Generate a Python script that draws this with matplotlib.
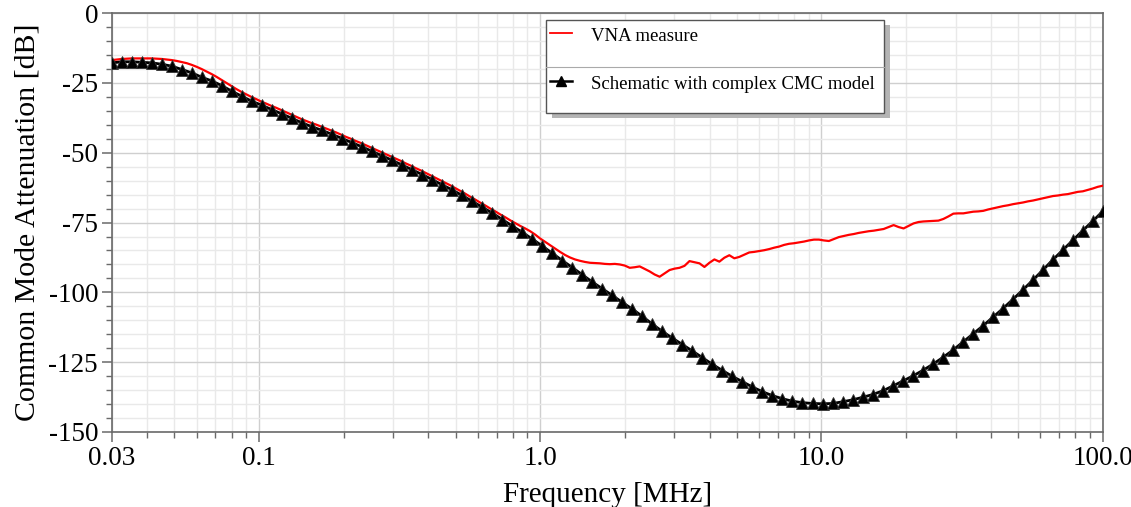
import matplotlib.pyplot as plt
import numpy as np
from matplotlib.patches import Rectangle
from matplotlib.lines import Line2D
from matplotlib.ticker import FixedLocator, LogLocator, NullFormatter

plt.rcParams['font.family'] = ['Liberation Serif', 'DejaVu Serif']
plt.rcParams['axes.unicode_minus'] = False

# --- Data ---
# simulation sweep: 100 log-spaced points, 0.03 .. 100 MHz
sim_freq = np.geomspace(0.03, 100, 100)
sim_db = [
    -17.8, -17.4, -17.4, -17.6, -17.8, -18.3, -19.0, -20.2, -21.4, -23.0,
    -24.3, -26.0, -28.0, -29.8, -31.6, -33.0, -34.6, -36.1, -37.7, -39.3,
    -40.7, -42.0, -43.4, -44.9, -46.4, -47.9, -49.5, -51.1, -52.7, -54.4,
    -56.1, -57.8, -59.6, -61.5, -63.3, -65.3, -67.4, -69.5, -71.6, -73.9,
    -76.2, -78.5, -80.9, -83.4, -86.0, -88.6, -91.1, -93.7, -96.3, -98.7,
    -101.1, -103.6, -106.0, -108.6, -111.4, -114.0, -116.4, -118.7, -121.0, -123.4,
    -125.8, -128.0, -130.1, -132.0, -133.9, -135.6, -137.0, -138.1, -139.0, -139.5,
    -139.8, -139.9, -139.8, -139.2, -138.5, -137.6, -136.6, -135.3, -133.6, -131.8,
    -130.0, -128.0, -125.8, -123.4, -120.8, -117.9, -115.0, -112.1, -109.0, -105.9,
    -102.6, -99.2, -95.7, -92.1, -88.4, -84.9, -81.4, -77.9, -74.5, -71.0,
]

# VNA measurement: 200 log-spaced points, 0.03 .. 100 MHz
vna_freq = np.geomspace(0.03, 100, 200)
vna_db = [
    -16.8, -16.6, -16.4, -16.3, -16.2, -16.2, -16.2, -16.2, -16.2, -16.3,
    -16.4, -16.6, -16.8, -17.1, -17.5, -17.9, -18.5, -19.2, -20.0, -20.9,
    -21.8, -22.8, -23.9, -25.0, -26.1, -27.2, -28.2, -29.1, -30.0, -30.8,
    -31.7, -32.4, -33.2, -33.9, -34.7, -35.5, -36.3, -37.1, -37.9, -38.6,
    -39.3, -39.9, -40.6, -41.3, -42.0, -42.7, -43.5, -44.3, -45.0, -45.8,
    -46.5, -47.3, -48.1, -48.9, -49.7, -50.5, -51.3, -52.1, -52.9, -53.8,
    -54.6, -55.5, -56.3, -57.2, -58.1, -59.0, -59.9, -60.8, -61.7, -62.7,
    -63.7, -64.7, -65.8, -66.8, -67.9, -68.9, -70.0, -71.0, -72.1, -73.1,
    -74.2, -75.2, -76.2, -77.1, -78.1, -79.3, -80.7, -81.9, -83.1, -84.3,
    -85.5, -86.6, -87.5, -88.2, -88.7, -89.1, -89.4, -89.5, -89.6, -89.8,
    -89.9, -89.8, -90.0, -90.4, -91.2, -91.0, -90.7, -91.6, -92.5, -93.6,
    -94.4, -93.2, -92.0, -91.5, -91.2, -90.5, -88.8, -89.2, -89.6, -90.9,
    -89.4, -88.2, -89.0, -87.6, -86.7, -87.8, -87.3, -86.5, -85.7, -85.5,
    -85.2, -84.9, -84.5, -84.0, -83.6, -83.0, -82.6, -82.4, -82.1, -81.8,
    -81.4, -81.1, -81.1, -81.4, -81.6, -80.9, -80.2, -79.8, -79.4, -79.1,
    -78.7, -78.4, -78.1, -77.9, -77.6, -77.3, -76.6, -75.9, -76.6, -77.1,
    -76.2, -75.3, -74.8, -74.6, -74.5, -74.4, -74.3, -73.7, -72.8, -71.8,
    -71.7, -71.7, -71.4, -71.1, -71.0, -70.8, -70.3, -69.9, -69.5, -69.1,
    -68.8, -68.4, -68.1, -67.8, -67.4, -67.1, -66.7, -66.3, -65.9, -65.5,
    -65.3, -65.0, -64.8, -64.4, -64.0, -63.8, -63.3, -62.8, -62.2, -61.8,
]

x_ticks = [0.03, 0.1, 1.0, 10.0, 100.0]
x_tick_labels = ['0.03', '0.1', '1.0', '10.0', '100.0']
y_ticks = [0, -25, -50, -75, -100, -125, -150]

# --- Figure ---
fig = plt.figure(figsize=(11.31, 5.07), dpi=100)
ax = fig.add_axes([0.099, 0.148, 0.876, 0.826])

ax.plot(vna_freq, vna_db, color='red', lw=1.6, zorder=3)
ax.plot(sim_freq, sim_db, color='black', lw=2, marker='^', ms=8,
        markeredgecolor='#333333', markeredgewidth=0.6, zorder=4)

ax.set_xscale('log')
ax.set_xlim(0.03, 100)
ax.set_ylim(-150, 0)

ax.xaxis.set_major_locator(FixedLocator(x_ticks))
ax.set_xticklabels(x_tick_labels)
ax.xaxis.set_minor_locator(LogLocator(base=10, subs=np.arange(2, 10)))
ax.xaxis.set_minor_formatter(NullFormatter())
ax.set_yticks(y_ticks)
ax.set_yticklabels([str(v) for v in y_ticks])
ax.yaxis.set_minor_locator(FixedLocator(np.arange(-150, 1, 5)))

ax.grid(True, which='major', color='#cfcfcf', lw=1.0)
ax.grid(True, which='minor', color='#e9e9e9', lw=1.0)
ax.set_axisbelow(True)

for side in ['left', 'bottom', 'top', 'right']:
    ax.spines[side].set_color('#6a6a6a')
    ax.spines[side].set_linewidth(1.2)

ax.tick_params(which='major', direction='out', length=7, width=1.1,
               color='#6a6a6a', labelsize=19.5, pad=3)
ax.tick_params(which='minor', direction='out', length=4, width=1.0,
               color='#6a6a6a')

ax.set_xlabel('Frequency [MHz]', fontsize=21, labelpad=8)
ax.set_ylabel('Common Mode Attenuation [dB]', fontsize=21.5, labelpad=6)

# --- Legend box with shadow and separator ---
lx0, lx1 = 0.438, 0.779
ly0, ly1 = 0.761, 0.983
sep_y = 0.872
dx, dy = 6 / 991, 5 / 419
ax.add_patch(Rectangle((lx0 + dx, ly0 - dy), lx1 - lx0, ly1 - ly0,
                       transform=ax.transAxes, facecolor='#b4b4b4',
                       edgecolor='none', zorder=9))
ax.add_patch(Rectangle((lx0, ly0), lx1 - lx0, ly1 - ly0,
                       transform=ax.transAxes, facecolor='white',
                       edgecolor='#555555', lw=1.0, zorder=10))
ax.add_line(Line2D([lx0, lx1], [sep_y, sep_y], transform=ax.transAxes,
                   color='#aaaaaa', lw=0.8, zorder=11))

sx0, sx1 = 0.442, 0.464
ax.add_line(Line2D([sx0, sx1], [0.952, 0.952], transform=ax.transAxes,
                   color='red', lw=1.3, zorder=11))
ax.add_line(Line2D([sx0, sx1], [0.837, 0.837], transform=ax.transAxes,
                   color='black', lw=1.8, zorder=11))
ax.add_line(Line2D([(sx0 + sx1) / 2], [0.837], transform=ax.transAxes,
                   color='black', marker='^', ms=7, zorder=12))
ax.text(0.483, 0.945, 'VNA measure', transform=ax.transAxes,
        fontsize=13.5, va='center', ha='left', zorder=12)
ax.text(0.483, 0.830, 'Schematic with complex CMC model', transform=ax.transAxes,
        fontsize=13.5, va='center', ha='left', zorder=12)

plt.savefig('out.png', dpi=100)
